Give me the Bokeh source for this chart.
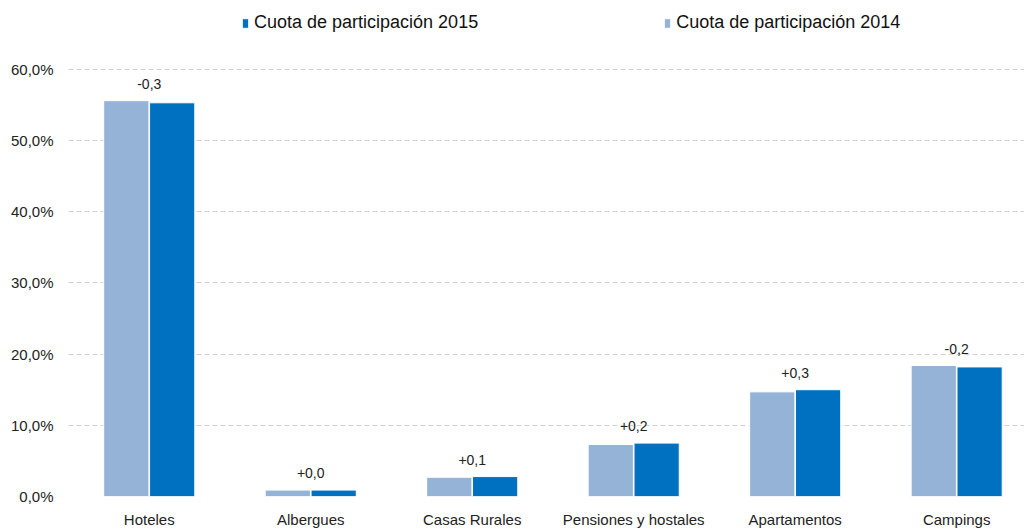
from bokeh.plotting import figure
from bokeh.models import ColumnDataSource, Range1d, FixedTicker, Legend, LegendItem
from bokeh.core.properties import value
from bokeh.transform import dodge
from bokeh.embed import file_html
from bokeh.resources import INLINE

categories = ["Hoteles", "Albergues", "Casas Rurales", "Pensiones y hostales", "Apartamentos", "Campings"]
share_2014 = [55.6, 0.9, 2.7, 7.3, 14.7, 18.4]
share_2015 = [55.3, 0.9, 2.8, 7.5, 15.0, 18.2]
y_ticks = [0, 10, 20, 30, 40, 50, 60]

FONT = "Liberation Sans"

idx = [i + 0.5 for i in range(len(categories))]
diffs = [b - a for a, b in zip(share_2014, share_2015)]
labels = [("+" if round(d, 1) >= 0 else "-") + f"{abs(d):.1f}".replace(".", ",") for d in diffs]
tops = [max(a, b) for a, b in zip(share_2014, share_2015)]

src = ColumnDataSource(dict(x=idx, y14=share_2014, y15=share_2015, lab=labels, top=tops))

p = figure(width=1024, height=530, output_backend="svg", toolbar_location=None,
           x_range=Range1d(0, 5.92), y_range=Range1d(0, 69.67),
           min_border_left=68, min_border_right=0, min_border_top=0, min_border_bottom=33)
p.outline_line_color = None
p.background_fill_color = "white"
p.border_fill_color = "white"

r14 = p.vbar(x=dodge("x", -0.142), top="y14", width=0.28, source=src, fill_color="#95B3D7",
             line_color="white", line_width=1)
r15 = p.vbar(x=dodge("x", 0.142), top="y15", width=0.28, source=src, fill_color="#0070C0",
             line_color="white", line_width=1)

p.text(x="x", y="top", text="lab", source=src, text_align="center", text_baseline="bottom",
       y_offset=-12, text_font=value(FONT), text_font_size="14px", text_color="#222222")

# axes
p.xaxis.ticker = FixedTicker(ticks=idx)
p.xaxis.major_label_overrides = {v: c for v, c in zip(idx, categories)}
p.yaxis.ticker = FixedTicker(ticks=y_ticks)
p.yaxis.major_label_overrides = {t: f"{t:.1f}".replace(".", ",") + "%" for t in y_ticks}
for ax in (p.xaxis, p.yaxis):
    ax.axis_line_color = None
    ax.major_tick_line_color = None
    ax.minor_tick_line_color = None
    ax.major_tick_out = 0
    ax.major_tick_in = 0
    ax.major_label_text_font = FONT
    ax.major_label_text_font_size = "15px"
    ax.major_label_text_color = "#222222"
p.xaxis.major_label_standoff = 14
p.yaxis.major_label_standoff = 15

p.xgrid.grid_line_color = None
p.ygrid.ticker = FixedTicker(ticks=y_ticks)
p.ygrid.grid_line_color = "#d0d0d0"
p.ygrid.grid_line_dash = "5 3"
p.ygrid.grid_line_width = 1

legend = Legend(items=[LegendItem(label="Cuota de participación 2015", renderers=[r15]),
                       LegendItem(label="Cuota de participación 2014", renderers=[r14])],
                orientation="horizontal", location=(173, 463), spacing=185,
                glyph_width=8, glyph_height=12, label_standoff=5,
                label_text_font=FONT, label_text_font_size="18px",
                label_text_color="#111111", border_line_color=None,
                background_fill_alpha=0, padding=0, margin=0)
p.add_layout(legend)

open("out.html", "w").write(file_html(p, INLINE))
